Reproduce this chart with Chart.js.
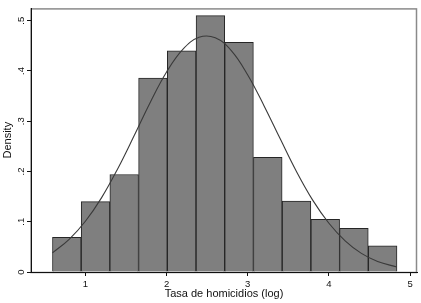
<!DOCTYPE html>
<html>
<head>
<meta charset="utf-8">
<script src="https://cdn.jsdelivr.net/npm/chart.js@4.4.0/dist/chart.umd.min.js"></script>
<style>
  html, body { margin: 0; padding: 0; background: #fff; }
  #wrap { width: 421px; height: 303px; }
</style>
</head>
<body>
<div id="wrap"><canvas id="myChart" width="421" height="303"></canvas></div>
<script>
// histogram bins (midpoints of each bar, width ~0.354) and densities
const binMids = [0.771, 1.125, 1.478, 1.832, 2.186, 2.540, 2.893, 3.247, 3.601, 3.955, 4.308, 4.662];
const binDensity = [0.069, 0.140, 0.194, 0.386, 0.440, 0.510, 0.457, 0.228, 0.141, 0.105, 0.087, 0.052];

// normal density curve
const curveX = [0.594, 0.8, 1.0, 1.2, 1.4, 1.6, 1.8, 2.0, 2.2, 2.4, 2.6, 2.8, 3.0, 3.2, 3.4, 3.6, 3.8, 4.0, 4.2, 4.4, 4.6, 4.838];
const curveY = [0.038, 0.065, 0.101, 0.148, 0.206, 0.271, 0.338, 0.398, 0.443, 0.467, 0.466, 0.440, 0.392, 0.331, 0.265, 0.200, 0.143, 0.097, 0.062, 0.037, 0.021, 0.010];

// tick labels
const xTicks = [1, 2, 3, 4, 5];
const yTicks = [0, 0.1, 0.2, 0.3, 0.4, 0.5];
const yTickLabels = ["0", ".1", ".2", ".3", ".4", ".5"];

const FONT = "'Liberation Sans', Arial, Helvetica, sans-serif";

// gray frame around plot region + rotated y tick labels
const stataFrame = {
  id: "stataFrame",
  beforeDraw(chart) {
    const { ctx, chartArea: a } = chart;
    ctx.save();
    ctx.strokeStyle = "#8a8a8a";
    ctx.lineWidth = 1.5;
    ctx.strokeRect(a.left, a.top + 0.5, a.right - a.left - 0.5, a.bottom - a.top);
    ctx.restore();
  },
  afterDraw(chart) {
    const { ctx } = chart;
    const y = chart.scales.y;
    ctx.save();
    ctx.fillStyle = "#111";
    ctx.font = "9.5px " + FONT;
    ctx.textAlign = "center";
    ctx.textBaseline = "middle";
    yTicks.forEach((v, i) => {
      ctx.save();
      ctx.translate(21, y.getPixelForValue(v));
      ctx.rotate(-Math.PI / 2);
      ctx.fillText(yTickLabels[i], 0, 0);
      ctx.restore();
    });
    ctx.restore();
  },
};

const ctx = document.getElementById("myChart").getContext("2d");
const myChart = new Chart(ctx, {
  type: "bar",
  data: {
    datasets: [
      {
        type: "line",
        data: curveX.map((x, i) => ({ x: x, y: curveY[i] })),
        borderColor: "#3a3a3a",
        borderWidth: 1.1,
        pointRadius: 0,
        tension: 0.4,
        fill: false,
        order: 0,
      },
      {
        type: "bar",
        data: binMids.map((x, i) => ({ x: x, y: binDensity[i] })),
        backgroundColor: "#7f7f7f",
        borderColor: "#262626",
        borderWidth: 1,
        barPercentage: 1,
        categoryPercentage: 1,
        order: 1,
      },
    ],
  },
  plugins: [stataFrame],
  options: {
    responsive: false,
    animation: false,
    layout: { padding: { top: 4, right: 4, left: 0, bottom: 0 } },
    plugins: { legend: { display: false }, tooltip: { enabled: false } },
    scales: {
      x: {
        type: "linear",
        min: 0.33,
        max: 5.085,
        offset: false,
        grid: { offset: false, drawOnChartArea: false, drawTicks: true, tickLength: 4, color: "#111" },
        border: { display: true, color: "#111", width: 1 },
        ticks: {
          stepSize: 1,
          includeBounds: false,
          padding: 3,
          color: "#111",
          font: { family: FONT, size: 9.5 },
          callback: (v) => (xTicks.includes(v) ? String(v) : ""),
        },
        title: {
          display: true,
          text: "Tasa de homicidios (log)",
          color: "#111",
          font: { family: FONT, size: 11 },
          padding: { top: 0, bottom: 2.4 },
        },
        afterFit(scale) { scale.height = 31; },
      },
      y: {
        min: 0,
        max: 0.5245,
        grid: { drawOnChartArea: false, drawTicks: true, tickLength: 4, color: "#111" },
        border: { display: true, color: "#111", width: 1 },
        ticks: {
          stepSize: 0.1,
          includeBounds: false,
          color: "rgba(0,0,0,0)",
          font: { family: FONT, size: 9 },
        },
        title: {
          display: true,
          text: "Density",
          color: "#111",
          font: { family: FONT, size: 11 },
          padding: { top: 1.7, bottom: 0 },
        },
        afterFit(scale) { scale.width = 31; },
      },
    },
  },
});
</script>
</body>
</html>
